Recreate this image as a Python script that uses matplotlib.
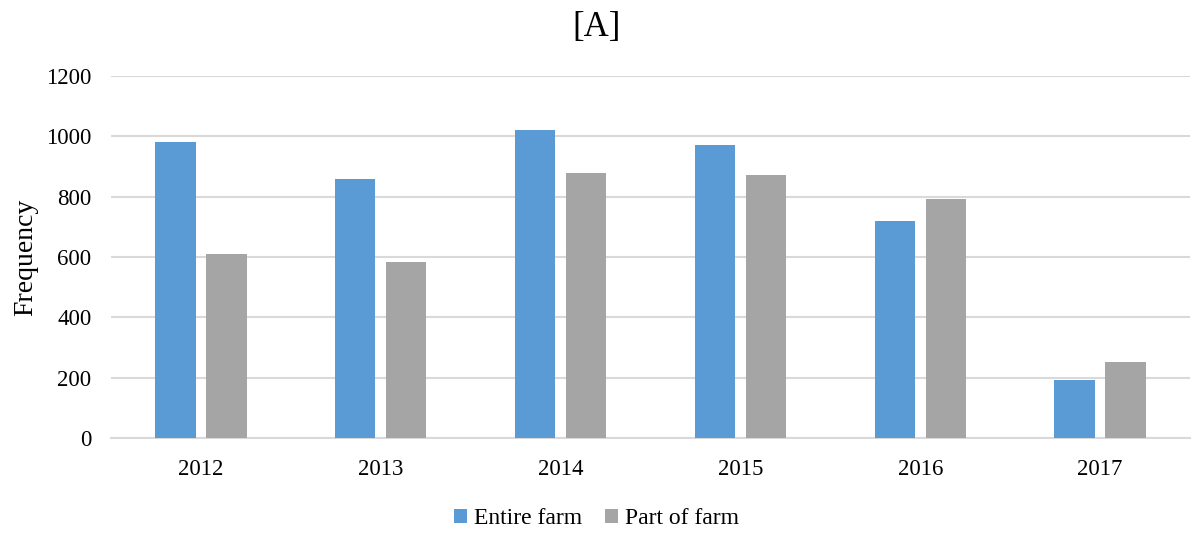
import matplotlib.pyplot as plt
import numpy as np

plt.rcParams['font.family'] = ['Liberation Serif', 'DejaVu Serif']

# Datos
years = ['2012', '2013', '2014', '2015', '2016', '2017']
entire_farm = [980, 860, 1020, 970, 720, 193]
part_of_farm = [610, 585, 880, 872, 792, 253]

fig = plt.figure(figsize=(11.93, 5.33), dpi=100)
ax = fig.add_axes([0.093, 0.1782, 0.9045, 0.6792])

x = np.arange(len(years))
w = 0.225
off = 0.1417
ax.bar(x - off, entire_farm, w, color='#5B9BD5', label='Entire farm', zorder=3)
ax.bar(x + off, part_of_farm, w, color='#A5A5A5', label='Part of farm', zorder=3)

ax.set_xlim(-0.5, len(years) - 0.5)
ax.set_ylim(0, 1200)
ax.set_yticks(range(0, 1201, 200))
ax.set_xticks(x)
ax.set_xticklabels(years)
ax.tick_params(axis='both', length=0, labelsize=16.5, colors='#000000')
ax.tick_params(axis='x', pad=15)
ax.tick_params(axis='y', pad=14)

ax.grid(True, axis='y', color='#d9d9d9', linewidth=1.5, zorder=0)
for s in ['top', 'right', 'left']:
    ax.spines[s].set_visible(False)
ax.spines['bottom'].set_color('#d9d9d9')
ax.spines['bottom'].set_linewidth(1.5)

ax.set_ylabel('Frequency', fontsize=20, labelpad=6)
fig.text(0.5, 0.948, '[A]', ha='center', va='center', fontsize=25)

fig.legend(loc='center', bbox_to_anchor=(0.5, 0.027), ncol=2, frameon=False,
           fontsize=17, handlelength=0.55, handleheight=0.55, handletextpad=0.3,
           columnspacing=0.95)

fig.savefig('out.png', dpi=100)
